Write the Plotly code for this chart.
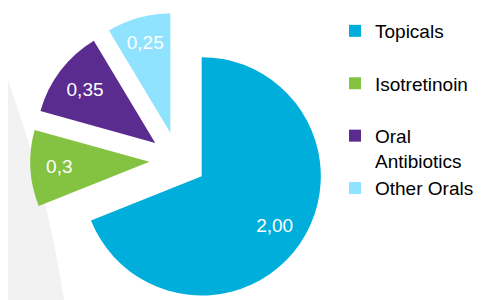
import plotly.graph_objects as go

categories = ["Topicals", "Isotretinoin", "Oral Antibiotics", "Other Orals"]
values = [2.00, 0.30, 0.35, 0.25]
value_labels = ["2,00", "0,3", "0,35", "0,25"]
colors = ["#00AEDB", "#84C341", "#5B2C8F", "#8FE3FF"]

# legend label layout (line breaks give the wider spacing of the original)
legend_labels = {
    "Topicals": "Topicals<br> ",
    "Isotretinoin": "Isotretinoin<br> ",
    "Oral Antibiotics": "Oral<br>Antibiotics",
    "Other Orals": "Other Orals",
}

W, H = 498, 300
FONT = "Arial, Liberation Sans, sans-serif"
PULL = 0.24
CX = 170
DOMAIN = dict(x=[CX / W - 0.31, CX / W + 0.31], y=[0, 0.985])

fig = go.Figure()
# coloured slices
fig.add_trace(go.Pie(
    labels=[legend_labels[c] for c in categories],
    values=values,
    textinfo="none",
    marker=dict(colors=colors, line=dict(width=0)),
    sort=False, direction="clockwise", rotation=0,
    pull=[PULL] * len(values),
    domain=DOMAIN,
    hoverinfo="label+value",
))
# same pie geometry, used for the value labels (ring keeps them toward the rim)
fig.add_trace(go.Pie(
    labels=categories,
    values=values,
    text=value_labels,
    textinfo="text",
    textposition="inside",
    insidetextorientation="horizontal",
    textfont=dict(family=FONT, size=19, color="white"),
    marker=dict(colors=["rgba(0,0,0,0)"] * len(values), line=dict(width=0)),
    hole=0.48,
    sort=False, direction="clockwise", rotation=0,
    pull=[PULL] * len(values),
    domain=DOMAIN,
    showlegend=False,
    hoverinfo="skip",
))

# light grey background disc at the left
cx, cy, R = -1076, 464, 1145
fig.add_shape(
    type="circle", xref="paper", yref="paper",
    x0=(cx - R) / W, x1=(cx + R) / W,
    y0=1 - (cy + R) / H, y1=1 - (cy - R) / H,
    fillcolor="#F2F2F2", line=dict(width=0), layer="below",
)

fig.update_layout(
    width=W, height=H,
    margin=dict(l=0, r=0, t=0, b=0),
    paper_bgcolor="white", plot_bgcolor="white",
    showlegend=True,
    legend=dict(
        x=327 / W, xanchor="left", y=1 - 4 / H, yanchor="top",
        font=dict(family=FONT, size=19, color="#000000"),
        valign="top", bgcolor="rgba(0,0,0,0)",
    ),
)

fig.write_html("out.html")
